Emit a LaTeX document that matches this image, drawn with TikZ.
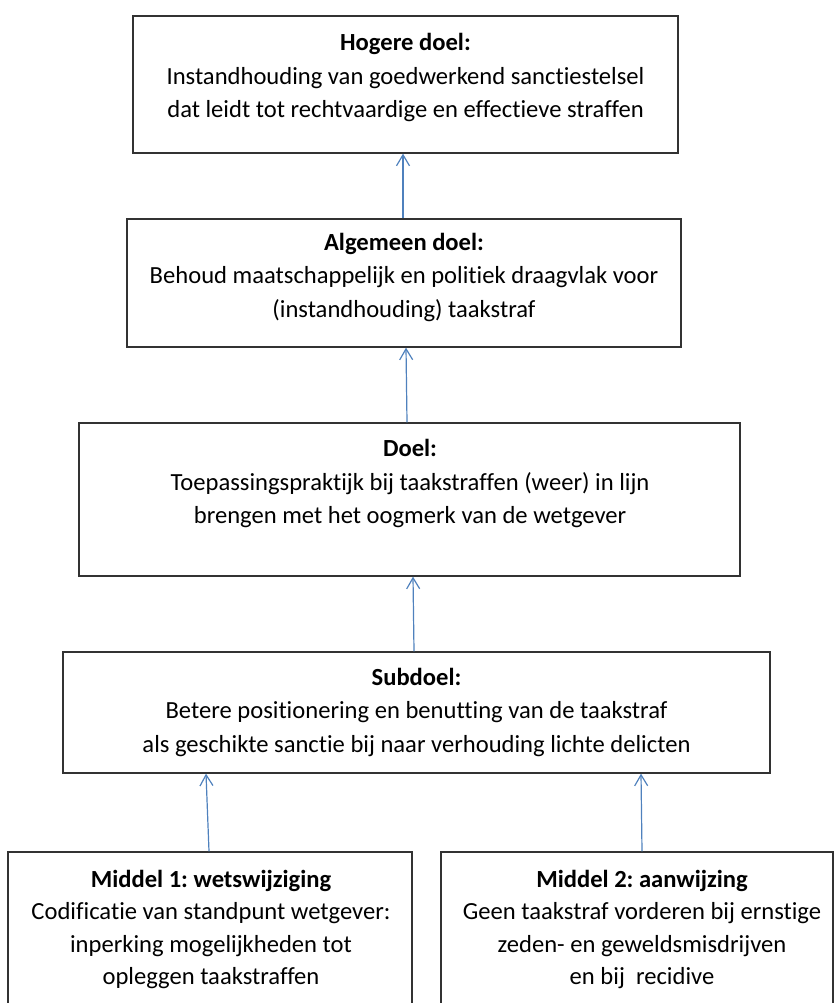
\documentclass[tikz,border=0pt]{standalone}
\usepackage{fontspec}
\setmainfont{Carlito}[Ligatures=NoCommon]
\usetikzlibrary{arrows.meta}
\definecolor{arrblue}{RGB}{79,129,189}
\definecolor{boxline}{RGB}{50,50,50}
\frenchspacing
\begin{document}
\begin{tikzpicture}[x=1pt,y=-1pt,
  box/.style={draw=boxline,line width=1.3pt,rectangle,inner sep=0pt,minimum width=#1},
  txt/.style={align=center,inner sep=0pt,font=\fontsize{24.6}{33.5}\selectfont},
  txts/.style={align=center,inner sep=0pt,font=\fontsize{24.6}{32.3}\selectfont},
  arr/.style={draw=arrblue,line width=1.2pt,-{Straight Barb[length=11pt,width=13pt,line width=1.2pt]}}]
\useasboundingbox (0,0) rectangle (834,1003);
\clip (0,0) rectangle (834,1003);
% boxes
\node[box=545pt,minimum height=137pt] (B1) at (405.5,84.5) {};
\node[box=554pt,minimum height=128pt] (B2) at (404,283) {};
\node[box=661pt,minimum height=153pt] (B3) at (409.5,499.5) {};
\node[box=707pt,minimum height=121pt] (B4) at (416.5,712.5) {};
\node[box=404pt,minimum height=180pt] (B5) at (210,942) {};
\node[box=392pt,minimum height=180pt] (B6) at (637,942) {};
% texts
\node[txt] (T1) at (405.5,77.5) {\textbf{Hogere doel:}\\Instandhouding van goedwerkend sanctiestelsel\\dat leidt tot rechtvaardige en effectieve straffen};
\node[txt] (T2) at (404,277) {\textbf{Algemeen doel:}\\Behoud maatschappelijk en politiek draagvlak voor\\(instandhouding) taakstraf};
\node[txt] (T3) at (410,483.5) {\textbf{Doel:}\\Toepassingspraktijk bij taakstraffen (weer) in lijn\\brengen met het oogmerk van de wetgever};
\node[txt] (T4) at (416.5,712) {\textbf{Subdoel:}\\Betere positionering en benutting van de taakstraf\\als geschikte sanctie bij naar verhouding lichte delicten};
\node[txts] (T5) at (211,929.5) {\textbf{Middel 1: wetswijziging}\\Codificatie van standpunt wetgever:\\inperking mogelijkheden tot\\opleggen taakstraffen};
\node[txts] (T6) at (642,929.5) {\textbf{Middel 2: aanwijzing}\\Geen taakstraf vorderen bij ernstige\\zeden- en geweldsmisdrijven\\en bij\ \ recidive};
% arrows
\draw[arr] (B2.north -| 403,0) -- (B1.south -| 403,0);
\draw[arr] (B3.north -| 407,0) -- (B2.south -| 406,0);
\draw[arr] (B4.north -| 414,0) -- (B3.south -| 413,0);
\draw[arr] (B5.north -| 209,0) -- (B4.south -| 206,0);
\draw[arr] (B6.north -| 642,0) -- (B4.south -| 641,0);
\end{tikzpicture}
\end{document}
